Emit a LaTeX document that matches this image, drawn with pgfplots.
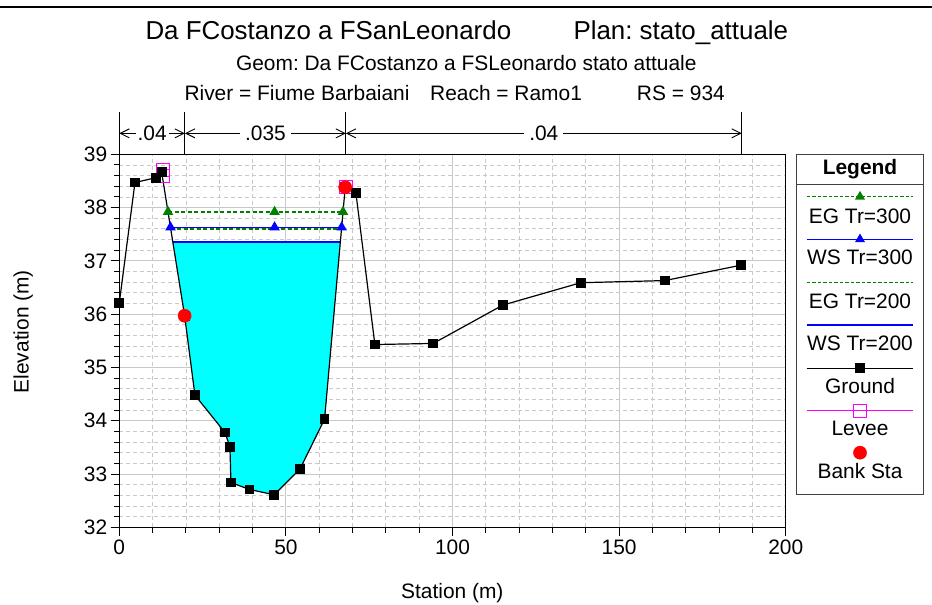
\documentclass[border=0pt]{standalone}
\usepackage{fontspec}
\setmainfont{Liberation Sans}
\usepackage{pgfplots}
\pgfplotsset{compat=1.18}
\usetikzlibrary{arrows.meta}
\definecolor{egreen}{RGB}{0,128,0}
\definecolor{wsblue}{RGB}{0,0,255}
\definecolor{water}{RGB}{0,255,255}
\definecolor{levee}{RGB}{255,0,255}
\definecolor{gridgray}{RGB}{200,200,200}
\newcommand{\fs}{\fontsize{21}{21}\selectfont}
\frenchspacing
\begin{document}
\begin{tikzpicture}[x=1bp,y=1bp]
\useasboundingbox (0,0) rectangle (932,605);
\draw[line width=2.3bp] (0,597.7) -- (932,597.7);
\node[anchor=base west, inner sep=0pt, font=\fontsize{26}{26}\selectfont] at (145.3,565) {Da FCostanzo a FSanLeonardo};
\node[anchor=base east, inner sep=0pt, font=\fontsize{26}{26}\selectfont] at (788.3,565) {Plan: stato\_attuale};
\node[anchor=base, inner sep=0pt, font=\fs] at (466.3,534.3) {Geom: Da FCostanzo a FSLeonardo stato attuale};
\node[anchor=base west, inner sep=0pt, font=\fs] at (184.3,504.3) {River = Fiume Barbaiani};
\node[anchor=base west, inner sep=0pt, font=\fs] at (430,504.3) {Reach = Ramo1};
\node[anchor=base east, inner sep=0pt, font=\fs] at (725,504.3) {RS = 934};
\node[font=\fs] at (452.3,11.7) {Station (m)};
\node[font=\fs, rotate=90] at (23.3,273.3) {Elevation (m)};

\begin{axis}[at={(119.3bp,77.7bp)}, anchor=south west, scale only axis,
  width=666.4bp, height=373bp,
  xmin=0, xmax=200, ymin=32, ymax=39, clip=false,
  xtick={0,50,100,150,200}, minor x tick num=4,
  ytick={32,33,34,35,36,37,38,39}, minor y tick num=4,
  grid=both,
  major grid style={draw=gridgray, line width=1bp},
  minor grid style={draw=gridgray, line width=0.8bp, dash pattern=on 4bp off 3bp},
  tick align=outside, tick pos=left,
  major tick length=8.6bp, minor tick length=5.3bp,
  every tick/.style={black, line width=0.9bp},
  axis line style={line width=1.2bp},
  tick label style={font=\fs},
  /pgf/number format/assume math mode=true,
]
% water fill (WS Tr=200)
\addplot[fill=water, draw=none] coordinates {(16.07,37.35) (19.6,35.97) (22.7,34.48) (31.7,33.78) (33.2,33.51) (33.5,32.84) (39.1,32.71) (46.5,32.61) (54.2,33.09) (61.6,34.03) (66.33,37.35)};
% EG Tr=200
\addplot[egreen, line width=1.5bp, dash pattern=on 4bp off 2.5bp] coordinates {(15.43,37.60) (66.69,37.60)};
% WS Tr=200
\addplot[wsblue, line width=1.5bp] coordinates {(16.07,37.35) (66.33,37.35)};
% EG Tr=300
\addplot[egreen, line width=1.5bp, dash pattern=on 4bp off 2.5bp, mark=triangle*, mark size=4.6bp, mark options={solid}] coordinates {(14.62,37.92) (46.6,37.92) (67.14,37.92)};
% WS Tr=300
\addplot[wsblue, line width=1.5bp, mark=triangle*, mark size=4.6bp] coordinates {(15.36,37.63) (46.6,37.63) (66.73,37.63)};
% Levee
\addplot[levee, line width=1bp, mark=square, mark size=6.5bp] coordinates {(13.0,38.71) (13.0,38.59)};
\addplot[levee, only marks, line width=1bp, mark=square, mark size=6.6bp] coordinates {(68.1,38.38)};
% Ground
\addplot[black, line width=1.2bp, mark=square*, mark size=4.3bp] coordinates {(0,36.21) (4.7,38.47) (10.9,38.56) (12.7,38.67) (19.6,35.97) (22.7,34.48) (31.7,33.78) (33.2,33.51) (33.5,32.84) (39.1,32.71) (46.5,32.61) (54.2,33.09) (61.6,34.03) (67.8,38.38) (71.0,38.28) (76.7,35.43) (94.2,35.45) (115.1,36.17) (138.5,36.59) (163.7,36.63) (186.7,36.92)};
% Bank stations
\addplot[only marks, red, mark=*, mark size=6.6bp] coordinates {(19.6,35.97) (67.8,38.38)};
% Manning's n annotations
\draw[line width=0.9bp] (axis cs:0,39) -- (axis cs:0,39.793);
\draw[line width=0.9bp] (axis cs:19.7,39) -- (axis cs:19.7,39.793);
\draw[line width=0.9bp] (axis cs:68.0,39) -- (axis cs:68.0,39.793);
\draw[line width=0.9bp] (axis cs:186.8,39) -- (axis cs:186.8,39.793);
\draw[line width=0.9bp, {Straight Barb[length=9bp,width=9bp]}-{Straight Barb[length=9bp,width=9bp]}] (axis cs:0,39.393) -- (axis cs:19.7,39.393) node[midway, fill=white, inner sep=2bp, font=\fs] {.04};
\draw[line width=0.9bp, {Straight Barb[length=9bp,width=9bp]}-{Straight Barb[length=9bp,width=9bp]}] (axis cs:19.7,39.393) -- (axis cs:68.0,39.393) node[midway, fill=white, inner sep=5bp, font=\fs] {.035};
\draw[line width=0.9bp, {Straight Barb[length=9bp,width=9bp]}-{Straight Barb[length=9bp,width=9bp]}] (axis cs:68.0,39.393) -- (axis cs:186.8,39.393) node[midway, fill=white, inner sep=5bp, font=\fs] {.04};
\end{axis}

% Legend
\begin{axis}[at={(796.7bp,110bp)}, anchor=south west, scale only axis,
  width=126.6bp, height=340.7bp,
  xmin=0, xmax=126.6, ymin=-340.7, ymax=0, clip=false,
  xtick=\empty, ytick=\empty,
  axis line style={line width=1bp, black!75},
]
\draw[line width=1bp, black!75] (axis cs:0,-30) -- (axis cs:126.6,-30);
\node[anchor=base, inner sep=0pt, font=\fs\bfseries] at (axis cs:63.3,-20.7) {Legend};
\addplot[egreen, line width=1.2bp, dash pattern=on 3.5bp off 2bp, mark=triangle*, mark size=4.6bp, mark indices={2}, mark options={solid}] coordinates {(10,-42.4) (63.3,-42.4) (116.6,-42.4)};
\node[anchor=base, inner sep=0pt, font=\fs] at (axis cs:63.3,-69.0) {EG Tr=300};
\addplot[wsblue, line width=1.2bp, mark=triangle*, mark size=4.6bp, mark indices={2}] coordinates {(10,-85) (63.3,-85) (116.6,-85)};
\node[anchor=base, inner sep=0pt, font=\fs] at (axis cs:63.3,-110.7) {WS Tr=300};
\addplot[egreen, line width=1.2bp, dash pattern=on 3.5bp off 2bp] coordinates {(10,-128.4) (116.6,-128.4)};
\node[anchor=base, inner sep=0pt, font=\fs] at (axis cs:63.3,-154.0) {EG Tr=200};
\addplot[wsblue, line width=1.2bp] coordinates {(10,-170.7) (116.6,-170.7)};
\node[anchor=base, inner sep=0pt, font=\fs] at (axis cs:63.3,-196.4) {WS Tr=200};
\addplot[black, line width=1.1bp, mark=square*, mark size=4.3bp, mark indices={2}] coordinates {(10,-214) (63.3,-214) (116.6,-214)};
\node[anchor=base, inner sep=0pt, font=\fs] at (axis cs:63.3,-239.0) {Ground};
\addplot[levee, line width=1bp, mark=square, mark size=6.6bp, mark indices={2}] coordinates {(10,-256.4) (63.3,-256.4) (116.6,-256.4)};
\node[anchor=base, inner sep=0pt, font=\fs] at (axis cs:63.3,-281.7) {Levee};
\addplot[only marks, red, mark=*, mark size=6.6bp] coordinates {(63.3,-298.4)};
\node[anchor=base, inner sep=0pt, font=\fs] at (axis cs:63.3,-324.0) {Bank Sta};
\end{axis}
\end{tikzpicture}
\end{document}
